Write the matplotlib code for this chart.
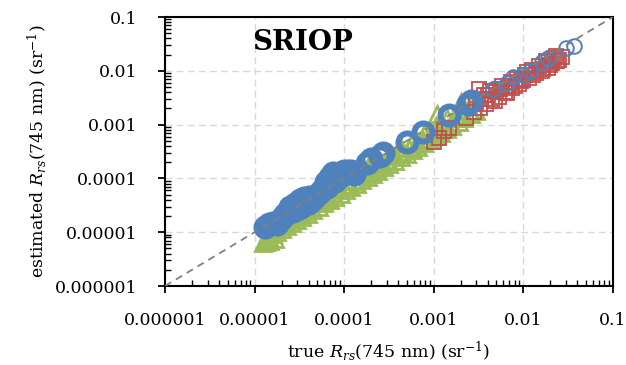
import numpy as np
import matplotlib
matplotlib.use("Agg")
import matplotlib.pyplot as plt
from matplotlib.ticker import LogLocator, FuncFormatter, NullFormatter

plt.rcParams['font.family'] = ['DejaVu Serif']
plt.rcParams['mathtext.fontset'] = 'dejavuserif'

# green triangles
green_x = [1.25e-5, 1.35e-5, 1.5e-5, 1.7e-5,
           1.3e-5, 1.45e-5, 1.6e-5, 1.8e-5, 2.0e-5, 2.3e-5, 2.6e-5, 3.0e-5, 3.4e-5, 3.9e-5,
           4.5e-5, 5.2e-5, 6.0e-5, 7.0e-5, 8.0e-5, 9.2e-5, 1.05e-4, 1.2e-4, 1.4e-4, 1.6e-4,
           1.85e-4, 2.1e-4, 2.4e-4, 2.8e-4, 3.2e-4, 3.7e-4, 4.3e-4, 5.0e-4, 5.8e-4, 6.7e-4,
           7.8e-4, 9.0e-4, 1.05e-3, 1.2e-3, 1.4e-3, 1.6e-3, 1.9e-3, 2.2e-3, 2.6e-3, 3.0e-3,
           1.4e-5, 1.7e-5, 2.1e-5, 2.5e-5, 3.0e-5, 3.6e-5, 4.3e-5, 5.2e-5, 6.2e-5, 7.5e-5,
           9.0e-5, 1.1e-4, 1.3e-4, 1.55e-4, 1.85e-4, 2.2e-4, 2.6e-4, 3.1e-4, 3.7e-4, 4.4e-4,
           5.3e-4, 6.3e-4, 7.5e-4, 9.0e-4, 1.07e-3, 1.3e-3, 1.55e-3, 1.85e-3, 2.2e-3, 2.6e-3,
           1.5e-5, 2.0e-5, 2.6e-5, 3.4e-5, 4.5e-5, 6.0e-5, 8.0e-5, 1.05e-4, 1.4e-4, 1.85e-4,
           2.4e-4, 3.2e-4, 4.3e-4, 5.8e-4, 7.8e-4, 1.05e-3, 1.4e-3, 1.9e-3, 2.3e-3, 2.7e-3,
           1.1e-3, 2.0e-3]
green_y = [6.2e-6, 6.5e-6, 6.9e-6, 7.4e-6,
           7.4e-6, 8.2e-6, 9.1e-6, 1.02e-5, 1.14e-5, 1.31e-5, 1.48e-5, 1.71e-5, 1.94e-5, 2.22e-5,
           2.57e-5, 2.96e-5, 3.42e-5, 3.99e-5, 4.56e-5, 5.24e-5, 6.0e-5, 6.9e-5, 8.0e-5, 9.2e-5,
           1.07e-4, 1.22e-4, 1.4e-4, 1.63e-4, 1.87e-4, 2.15e-4, 2.5e-4, 2.9e-4, 3.4e-4, 3.9e-4,
           4.6e-4, 5.3e-4, 6.2e-4, 7.1e-4, 8.3e-4, 9.5e-4, 1.12e-3, 1.3e-3, 1.55e-3, 1.8e-3,
           9.8e-6, 1.19e-5, 1.47e-5, 1.75e-5, 2.1e-5, 2.52e-5, 3.0e-5, 3.64e-5, 4.34e-5, 5.25e-5,
           6.3e-5, 7.7e-5, 9.1e-5, 1.09e-4, 1.3e-4, 1.54e-4, 1.82e-4, 2.17e-4, 2.59e-4, 3.08e-4,
           3.71e-4, 4.41e-4, 5.25e-4, 6.3e-4, 7.5e-4, 9.1e-4, 1.09e-3, 1.3e-3, 1.54e-3, 1.82e-3,
           1.3e-5, 1.7e-5, 2.2e-5, 2.9e-5, 3.8e-5, 5.1e-5, 6.8e-5, 8.9e-5, 1.2e-4, 1.6e-4,
           2.05e-4, 2.7e-4, 3.7e-4, 5.0e-4, 6.8e-4, 9.5e-4, 1.35e-3, 1.9e-3, 2.5e-3, 2.6e-3,
           1.6e-3, 2.6e-3]

# red squares
red_x = [1.0e-3, 1.15e-3, 1.3e-3, 1.5e-3, 2.3e-3, 2.8e-3, 3.0e-3, 3.2e-3, 3.3e-3, 3.6e-3,
         3.8e-3, 4.2e-3, 4.5e-3, 5.0e-3, 5.3e-3, 5.8e-3, 6.2e-3, 6.8e-3, 7.2e-3, 8.0e-3,
         8.5e-3, 9.5e-3, 1.05e-2, 1.15e-2, 1.25e-2, 1.4e-2, 1.5e-2, 1.65e-2, 1.8e-2, 2.0e-2,
         2.2e-2, 2.5e-2, 2.7e-2,
         3.4e-3, 4.0e-3, 4.8e-3, 5.5e-3, 6.5e-3, 7.5e-3, 9.0e-3, 1.0e-2, 1.1e-2, 1.3e-2,
         1.6e-2, 1.9e-2, 2.1e-2, 2.4e-2, 2.3e-2]
red_y = [4.8e-4, 5.6e-4, 7.6e-4, 8.8e-4, 1.3e-3, 1.7e-3, 2.6e-3, 4.5e-3, 2.0e-3, 3.5e-3,
         2.4e-3, 4.3e-3, 3.0e-3, 4.0e-3, 3.2e-3, 5.2e-3, 4.0e-3, 5.0e-3, 6.3e-3, 5.2e-3,
         7.0e-3, 6.5e-3, 8.5e-3, 7.2e-3, 1.05e-2, 9.0e-3, 1.25e-2, 1.1e-2, 1.5e-2, 1.3e-2,
         1.7e-2, 1.6e-2, 1.8e-2,
         3.0e-3, 3.6e-3, 2.7e-3, 4.6e-3, 3.8e-3, 4.8e-3, 5.8e-3, 6.8e-3, 9.5e-3, 8.2e-3,
         1.0e-2, 1.15e-2, 1.4e-2, 1.5e-2, 1.9e-2]

# blue circles, low range (thick rings)
blue_x = [1.3e-5, 1.45e-5, 1.6e-5, 1.8e-5, 2.2e-5, 2.5e-5, 2.8e-5, 3.2e-5, 3.6e-5, 4.0e-5,
          3.0e-5, 3.5e-5, 5.5e-5, 6.2e-5, 7.0e-5, 7.5e-5, 8.5e-5, 1.0e-4, 1.1e-4, 1.8e-4,
          2.0e-4, 2.5e-4, 2.7e-4, 5.0e-4, 7.6e-4, 1.5e-3, 2.4e-3, 2.6e-3,
          2.0e-5, 2.4e-5, 2.7e-5, 3.3e-5, 4.0e-5, 4.5e-5, 5.0e-5, 6.0e-5, 6.5e-5, 8.0e-5,
          9.0e-5, 1.2e-4, 1.3e-4]
blue_y = [1.25e-5, 1.4e-5, 1.5e-5, 1.45e-5, 2.2e-5, 2.9e-5, 3.3e-5, 3.9e-5, 4.3e-5, 4.5e-5,
          2.7e-5, 3.4e-5, 5.8e-5, 8.5e-5, 1.05e-4, 1.27e-4, 1.2e-4, 1.4e-4, 1.35e-4, 1.9e-4,
          2.3e-4, 2.6e-4, 3.0e-4, 4.8e-4, 7.3e-4, 1.5e-3, 2.4e-3, 2.8e-3,
          1.8e-5, 2.4e-5, 2.5e-5, 3.0e-5, 3.5e-5, 4.2e-5, 5.0e-5, 6.5e-5, 7.0e-5, 9.0e-5,
          1.1e-4, 1.4e-4, 1.2e-4]

# blue circles, high range (thin rings)
blue2_x = [4.6e-3, 6.6e-3, 7.6e-3, 1.0e-2, 1.18e-2, 1.6e-2, 1.9e-2, 3.0e-2, 3.7e-2]
blue2_y = [4.6e-3, 5.9e-3, 7.7e-3, 8.5e-3, 1.0e-2, 1.45e-2, 1.7e-2, 2.65e-2, 2.9e-2]

decades = [1e-6, 1e-5, 1e-4, 1e-3, 1e-2, 1e-1]

fig = plt.figure(figsize=(6.26, 3.65), dpi=100)
ax = fig.add_axes([0.2636, 0.2164, 0.7154, 0.737])

ax.plot(green_x, green_y, '^', ms=11, mfc='none', mec='#9BBB59', mew=2, zorder=3)
ax.plot(red_x, red_y, 's', ms=10, mfc='none', mec='#C0504D', mew=1.3, zorder=4)
ax.plot(blue_x, blue_y, 'o', ms=13, mfc='none', mec='#4F81BD', mew=4.3, zorder=5)
ax.plot(blue2_x, blue2_y, 'o', ms=10.5, mfc='none', mec='#4F81BD', mew=1.4, zorder=5)
ax.plot([decades[0], decades[-1]], [decades[0], decades[-1]], '--', color='#808080',
        lw=1.3, dashes=(4, 3), zorder=6)

ax.set_xscale('log')
ax.set_yscale('log')
ax.set_xlim(decades[0], decades[-1])
ax.set_ylim(decades[0], decades[-1])

fmt = FuncFormatter(lambda v, p: np.format_float_positional(v, trim='-'))
for axis in (ax.xaxis, ax.yaxis):
    axis.set_major_locator(LogLocator(base=10, numticks=10))
    axis.set_minor_locator(LogLocator(base=10, subs=np.arange(2, 10), numticks=10))
    axis.set_major_formatter(fmt)
    axis.set_minor_formatter(NullFormatter())

ax.tick_params(which='major', direction='out', length=5, width=1.3, labelsize=12.5)
ax.tick_params(axis='x', which='major', pad=14)
ax.tick_params(axis='y', which='major', pad=15)
ax.tick_params(which='minor', direction='in', length=4, width=1.0)
ax.grid(True, which='major', color='#D9D9D9', linestyle=(0, (5, 3)), lw=1.0, zorder=0)
ax.set_axisbelow(True)
for s in ax.spines.values():
    s.set_linewidth(1.5)

ax.set_xlabel(r'true $R_{rs}$(745 nm) (sr$^{-1}$)', fontsize=12.5, labelpad=7)
ax.set_ylabel(r'estimated $R_{rs}$(745 nm) (sr$^{-1}$)', fontsize=12.5, labelpad=4)

ax.text(0.195, 0.905, 'SRIOP', transform=ax.transAxes, fontsize=20, fontweight='bold',
        va='center', ha='left')

fig.savefig('out.png', dpi=100)
